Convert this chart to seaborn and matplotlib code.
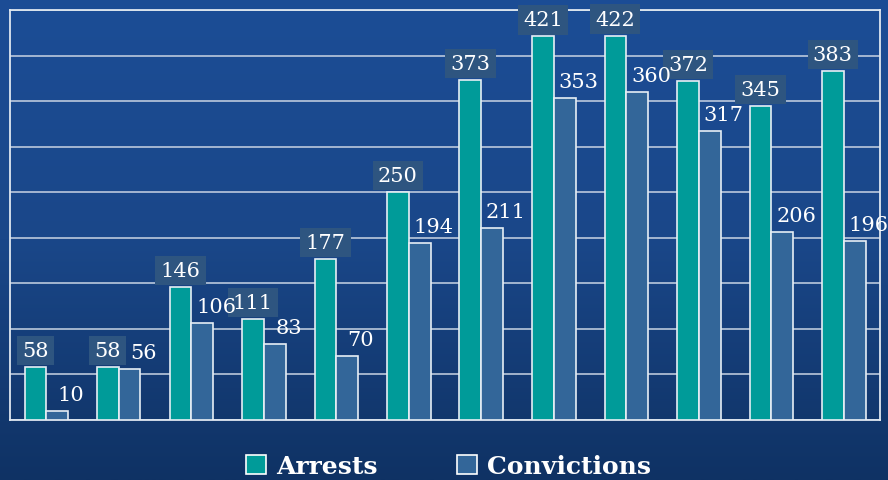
import numpy as np
import pandas as pd
import matplotlib
matplotlib.use("Agg")
import matplotlib.pyplot as plt
import seaborn as sns

groups = [str(i) for i in range(1, 13)]
arrests = [58, 58, 146, 111, 177, 250, 373, 421, 422, 372, 345, 383]
convictions = [10, 56, 106, 83, 70, 194, 211, 353, 360, 317, 206, 196]

df = pd.DataFrame({
    "group": groups * 2,
    "count": arrests + convictions,
    "series": ["Arrests"] * 12 + ["Convictions"] * 12,
})

sns.set_theme(style="white")
plt.rcParams["font.family"] = ["DejaVu Serif"]

fig = plt.figure(figsize=(8.88, 4.81), dpi=100)

# background gradient
bg = fig.add_axes([0, 0, 1, 1], zorder=0)
grad = np.linspace(0, 1, 256).reshape(-1, 1)
cmap = matplotlib.colors.LinearSegmentedColormap.from_list(
    "bg", ["#1c4d96", "#1a4789", "#0f3264"])
bg.imshow(grad, aspect="auto", cmap=cmap, extent=[0, 1, 0, 1])
bg.axis("off")

ax = fig.add_axes([10 / 888, 60 / 481, 870 / 888, 410 / 481], zorder=1)
ax.patch.set_alpha(0)

palette = {"Arrests": "#009b99", "Convictions": "#336699"}
sns.barplot(data=df, x="group", y="count", hue="series", palette=palette,
            width=0.6, gap=0.0, edgecolor="#e6eef5", linewidth=1.2,
            saturation=1, legend=False, ax=ax, zorder=3)

ax.set_ylim(0, 450)
ax.set_xlim(-0.5, 11.5)
ax.set_yticks(range(0, 451, 50))
ax.yaxis.grid(True, color="#c9d4e4", linewidth=1.1, zorder=0)
ax.set_axisbelow(True)
ax.set_xticks([])
ax.set_yticklabels([])
ax.tick_params(left=False, bottom=False)
ax.set_xlabel("")
ax.set_ylabel("")
for s in ax.spines.values():
    s.set_color("#dfe7f0")
    s.set_linewidth(1.3)

arr_bars = ax.containers[0]
con_bars = ax.containers[1]
for bar, v in zip(arr_bars, arrests):
    ax.annotate(str(v), (bar.get_x() + bar.get_width() / 2, bar.get_height()),
                xytext=(0, 5), textcoords="offset points", ha="center", va="bottom",
                fontsize=15, color="white", zorder=5,
                bbox=dict(boxstyle="square,pad=0.25", fc="#2e5580", ec="none"))
for bar, v in zip(con_bars, convictions):
    ax.annotate(str(v), (bar.get_x() + bar.get_width() / 2, bar.get_height()),
                xytext=(10, 5), textcoords="offset points", ha="center", va="bottom",
                fontsize=15, color="white", zorder=5)

handles = [matplotlib.patches.Patch(fc=palette[k], ec="white", lw=1.2) for k in palette]
leg = fig.legend(handles, list(palette), loc="center", bbox_to_anchor=(0.505, 0.029),
                 ncol=2, frameon=False, handlelength=0.8, handleheight=0.8,
                 handletextpad=0.4, columnspacing=3.2,
                 prop=dict(family=["DejaVu Serif"], weight="bold", size=18))
for t in leg.get_texts():
    t.set_color("white")

fig.savefig("out.png", dpi=100)
